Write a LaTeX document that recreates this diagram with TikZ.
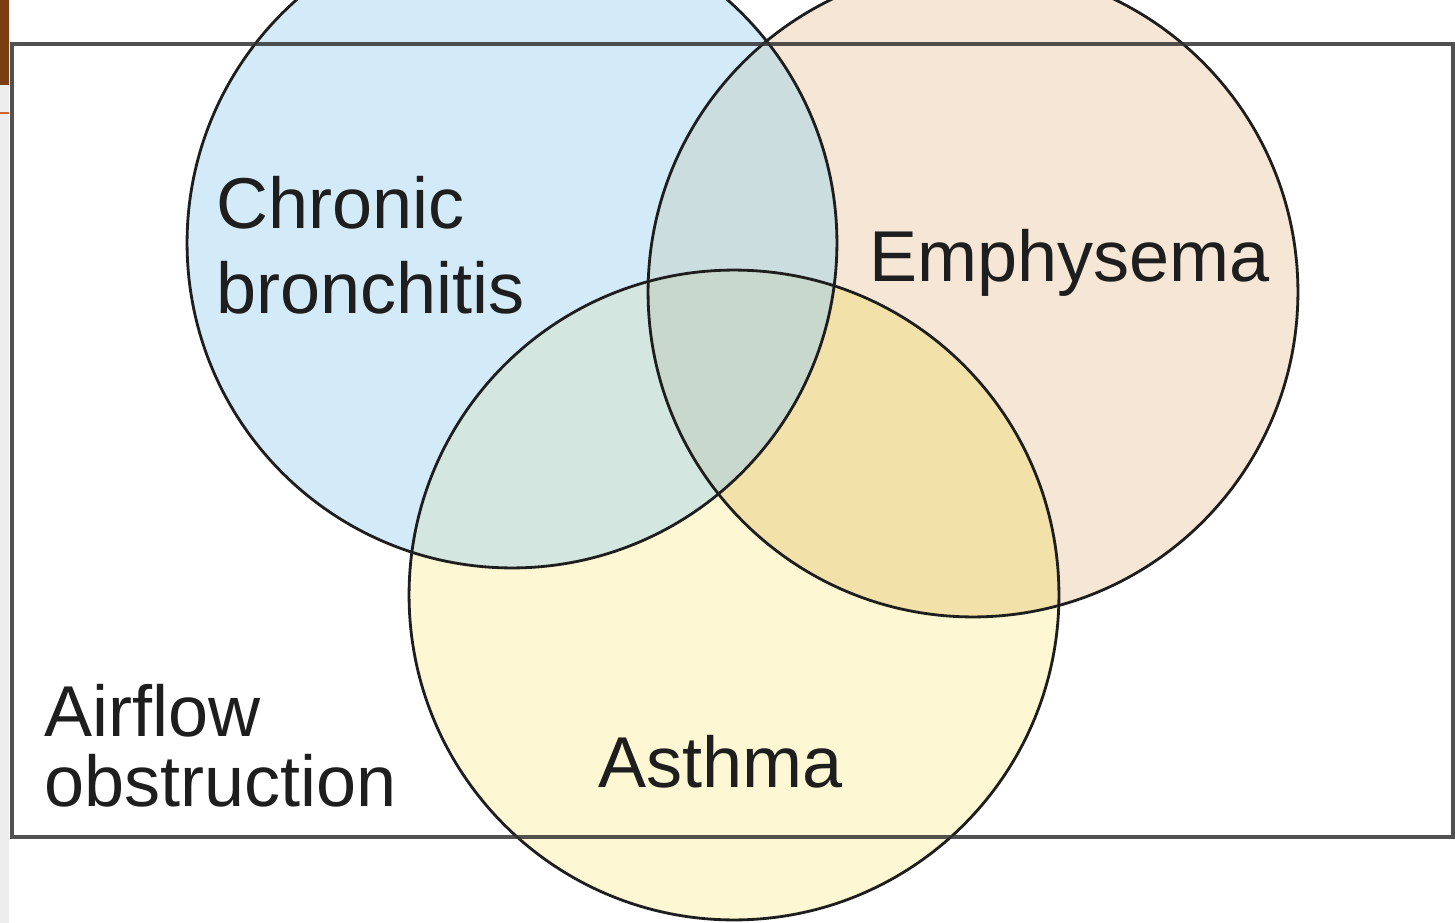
\documentclass[tikz,border=0pt]{standalone}
\usepackage{fontspec}
\setmainfont{Liberation Sans}
\definecolor{cbfill}{HTML}{D3EAF8}
\definecolor{emfill}{HTML}{F5E6D6}
\definecolor{asfill}{HTML}{FDF8D3}
\definecolor{cbem}{HTML}{CCDDE0}
\definecolor{cbas}{HTML}{D3E7E0}
\definecolor{emas}{HTML}{F2E1A8}
\definecolor{allthree}{HTML}{C9D8CD}
\definecolor{inkc}{HTML}{1E1E1E}
\definecolor{stripbrown}{HTML}{7A3E12}
\definecolor{striporange}{HTML}{C8682A}
\begin{document}
\begin{tikzpicture}[x=0.02cm,y=-0.02cm,
  ring/.style={draw=inkc,line width=1.6pt},
  frame/.style={draw=black!80,line width=2pt,opacity=0.85},
  lbl/.style={text=inkc,inner sep=0pt,align=left}]
\useasboundingbox (0,0) rectangle (1455,923);
\fill[white] (0,0) rectangle (1455,923);
\def\R{6.5cm}
\coordinate (cb) at (512,243);
\coordinate (em) at (973,292);
\coordinate (as) at (734,595);
% base fills
\fill[cbfill] (cb) circle[radius=\R];
\fill[emfill] (em) circle[radius=\R];
\fill[asfill] (as) circle[radius=\R];
% pairwise overlaps
\begin{scope}
  \clip (cb) circle[radius=\R];
  \fill[cbem] (em) circle[radius=\R];
  \fill[cbas] (as) circle[radius=\R];
\end{scope}
\begin{scope}
  \clip (em) circle[radius=\R];
  \fill[emas] (as) circle[radius=\R];
\end{scope}
\begin{scope}
  \clip (cb) circle[radius=\R];
  \clip (em) circle[radius=\R];
  \fill[allthree] (as) circle[radius=\R];
\end{scope}
% outlines
\draw[ring] (cb) circle[radius=\R];
\draw[ring] (em) circle[radius=\R];
\draw[ring] (as) circle[radius=\R];
% frame
\draw[frame] (12,44) rectangle (1453,837);
% left slide strip
\fill[black!7] (0,0) rectangle (9,923);
\fill[stripbrown] (0,0) rectangle (9,85);
\draw[striporange,line width=1pt] (0,113) -- (9,113);
% labels
\node[lbl,anchor=north west,font=\fontsize{41}{48.4}\selectfont] (cbtext) at (216,176) {Chronic\\bronchitis};
\node[lbl,anchor=north west,font=\fontsize{41}{48}\selectfont] (emtext) at (869,229) {Emphysema};
\node[lbl,anchor=north west,font=\fontsize{41}{48}\selectfont] (astext) at (598,735) {Asthma};
\node[lbl,anchor=north west,font=\fontsize{41}{39.8}\selectfont] (aftext) at (44,684) {Airflow\\obstruction};
\end{tikzpicture}
\end{document}
